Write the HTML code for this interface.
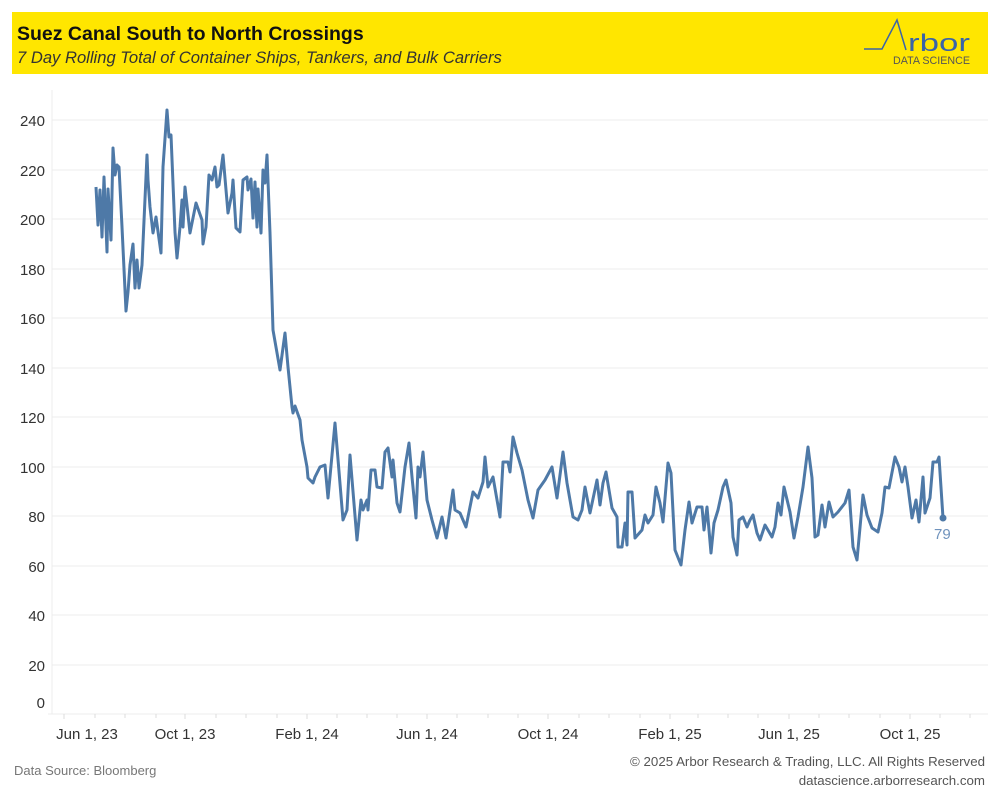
<!DOCTYPE html>
<html><head><meta charset="utf-8"><style>
body{margin:0;background:#fff;width:1000px;height:800px;overflow:hidden;font-family:"Liberation Sans",sans-serif}
</style></head><body>
<svg width="1000" height="800" xmlns="http://www.w3.org/2000/svg" font-family="Liberation Sans, sans-serif">
<rect x="12" y="12" width="976" height="62" fill="#ffe600"/>
<text x="17" y="40" font-size="19.5" font-weight="bold" fill="#111">Suez Canal South to North Crossings</text>
<text x="17" y="63" font-size="16.6" font-style="italic" fill="#333">7 Day Rolling Total of Container Ships, Tankers, and Bulk Carriers</text>
<polyline points="864,49 882,49 897,20 906,50" fill="none" stroke="#3a64a8" stroke-width="1.5"/>
<text x="908" y="51" font-size="24" fill="#3a64a8" textLength="62" lengthAdjust="spacingAndGlyphs">rbor</text>
<text x="893" y="64" font-size="11" fill="#555" textLength="77" lengthAdjust="spacingAndGlyphs">DATA SCIENCE</text>
<g stroke="#ececec" stroke-width="1">
<line x1="52" y1="120" x2="988" y2="120"/><line x1="52" y1="170" x2="988" y2="170"/><line x1="52" y1="219" x2="988" y2="219"/><line x1="52" y1="269" x2="988" y2="269"/><line x1="52" y1="318" x2="988" y2="318"/><line x1="52" y1="368" x2="988" y2="368"/><line x1="52" y1="417" x2="988" y2="417"/><line x1="52" y1="467" x2="988" y2="467"/><line x1="52" y1="516" x2="988" y2="516"/><line x1="52" y1="566" x2="988" y2="566"/><line x1="52" y1="615" x2="988" y2="615"/><line x1="52" y1="665" x2="988" y2="665"/>
<line x1="52" y1="90" x2="52" y2="714"/><line x1="48" y1="714" x2="988" y2="714"/>
</g>
<g stroke="#ddd" stroke-width="1">
<line x1="64" y1="714" x2="64" y2="719"/><line x1="95" y1="714" x2="95" y2="718"/><line x1="125" y1="714" x2="125" y2="718"/><line x1="156" y1="714" x2="156" y2="718"/><line x1="185" y1="714" x2="185" y2="719"/><line x1="216" y1="714" x2="216" y2="718"/><line x1="246" y1="714" x2="246" y2="718"/><line x1="277" y1="714" x2="277" y2="718"/><line x1="307" y1="714" x2="307" y2="719"/><line x1="337" y1="714" x2="337" y2="718"/><line x1="367" y1="714" x2="367" y2="718"/><line x1="397" y1="714" x2="397" y2="718"/><line x1="427" y1="714" x2="427" y2="719"/><line x1="457" y1="714" x2="457" y2="718"/><line x1="488" y1="714" x2="488" y2="718"/><line x1="518" y1="714" x2="518" y2="718"/><line x1="548" y1="714" x2="548" y2="719"/><line x1="579" y1="714" x2="579" y2="718"/><line x1="609" y1="714" x2="609" y2="718"/><line x1="640" y1="714" x2="640" y2="718"/><line x1="670" y1="714" x2="670" y2="719"/><line x1="698" y1="714" x2="698" y2="718"/><line x1="728" y1="714" x2="728" y2="718"/><line x1="758" y1="714" x2="758" y2="718"/><line x1="789" y1="714" x2="789" y2="719"/><line x1="819" y1="714" x2="819" y2="718"/><line x1="849" y1="714" x2="849" y2="718"/><line x1="880" y1="714" x2="880" y2="718"/><line x1="910" y1="714" x2="910" y2="719"/><line x1="940" y1="714" x2="940" y2="718"/><line x1="970" y1="714" x2="970" y2="718"/>
</g>
<g font-size="15" fill="#333" text-anchor="end">
<text x="45" y="126">240</text><text x="45" y="176">220</text><text x="45" y="225">200</text><text x="45" y="275">180</text><text x="45" y="324">160</text><text x="45" y="374">140</text><text x="45" y="423">120</text><text x="45" y="473">100</text><text x="45" y="522">80</text><text x="45" y="572">60</text><text x="45" y="621">40</text><text x="45" y="671">20</text><text x="45" y="708">0</text>
</g>
<g font-size="15" fill="#333" text-anchor="middle">
<text x="87" y="739">Jun 1, 23</text><text x="185" y="739">Oct 1, 23</text><text x="307" y="739">Feb 1, 24</text><text x="427" y="739">Jun 1, 24</text><text x="548" y="739">Oct 1, 24</text><text x="670" y="739">Feb 1, 25</text><text x="789" y="739">Jun 1, 25</text><text x="910" y="739">Oct 1, 25</text>
</g>
<polyline fill="none" stroke="#4e79a7" stroke-width="3" stroke-linejoin="round" points="96,187 98,225 100,190 102,237 104,177 107,252 108,189 111,240 113,148 115,175 117,165 119,167 122,227 126,311 128,292 130,265 133,244 135,288 137,260 139,288 142,265 147,155 148,180 150,207 153,233 156,217 161,253 163,167 167,110 169,137 171,135 175,232 177,258 180,227 182,200 183,227 185,187 190,233 193,218 196,203 202,220 203,244 206,227 209,175 212,180 215,167 217,187 219,185 223,155 228,213 232,193 233,180 236,228 240,232 243,180 247,177 248,190 251,179 253,218 255,182 257,227 258,189 261,233 263,170 265,183 267,155 270,233 273,330 280,370 285,333 288,367 292,407 293,413 295,406 300,420 302,440 307,467 308,478 313,483 315,477 320,467 325,465 328,498 335,423 343,520 347,510 350,455 357,540 361,500 363,510 367,500 368,510 371,470 375,470 377,487 382,488 385,452 388,448 392,477 393,460 397,503 400,512 405,467 409,443 412,477 416,518 418,467 420,477 423,452 427,500 432,520 437,538 442,517 446,538 453,490 455,510 460,513 466,527 473,492 478,498 483,482 485,457 488,487 493,477 500,517 503,462 508,462 510,472 513,437 517,453 522,470 528,500 533,518 538,490 545,480 552,467 557,498 563,452 567,483 573,517 578,520 582,510 585,487 590,513 597,480 600,505 603,483 606,472 612,508 617,517 618,547 622,547 625,523 627,545 628,492 632,492 635,538 642,530 645,515 648,523 653,515 656,487 660,503 663,522 668,463 671,473 675,550 681,565 685,530 689,502 692,523 697,507 702,507 704,530 707,507 711,553 714,523 718,510 723,487 726,480 731,503 733,537 737,555 739,520 743,517 747,527 750,520 753,515 757,533 760,540 765,525 772,537 775,527 778,503 781,515 784,487 790,512 794,538 798,517 803,487 808,447 812,478 815,537 818,535 822,505 825,527 829,502 833,517 838,512 845,503 849,490 853,547 857,560 863,495 867,515 872,528 878,532 882,513 885,487 889,488 895,457 899,467 902,482 905,467 908,487 912,518 916,500 919,522 923,477 925,513 930,498 933,462 937,462 939,457 943,518"/>
<circle cx="943" cy="518" r="3.5" fill="#4e79a7"/>
<text x="934" y="539" font-size="15" fill="#6f93bd">79</text>
<text x="14" y="775" font-size="13" fill="#777">Data Source: Bloomberg</text>
<text x="985" y="766" font-size="13.3" fill="#555" text-anchor="end">© 2025 Arbor Research &amp; Trading, LLC. All Rights Reserved</text>
<text x="985" y="785" font-size="13.3" fill="#555" text-anchor="end">datascience.arborresearch.com</text>
</svg>
</body></html>
